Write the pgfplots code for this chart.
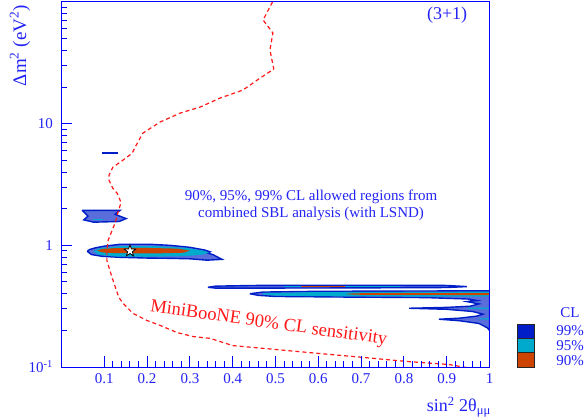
\documentclass[border=0pt]{standalone}
\usepackage{pgfplots}
\pgfplotsset{compat=1.18}
\usepackage{fontspec}
\setmainfont{Liberation Serif}
\definecolor{rootblue}{RGB}{0,0,255}
\definecolor{txtblue}{RGB}{35,35,245}
\definecolor{c99}{RGB}{0,30,200}
\definecolor{c95}{RGB}{0,170,204}
\definecolor{c90}{RGB}{204,68,0}
\definecolor{sensred}{RGB}{255,25,25}
\pgfdeclareplotmark{fstar}{%
  \pgfpathmoveto{\pgfpointpolar{90}{\pgfplotmarksize}}%
  \pgfpathlineto{\pgfpointpolar{126}{0.42\pgfplotmarksize}}%
  \pgfpathlineto{\pgfpointpolar{162}{\pgfplotmarksize}}%
  \pgfpathlineto{\pgfpointpolar{198}{0.42\pgfplotmarksize}}%
  \pgfpathlineto{\pgfpointpolar{234}{\pgfplotmarksize}}%
  \pgfpathlineto{\pgfpointpolar{270}{0.42\pgfplotmarksize}}%
  \pgfpathlineto{\pgfpointpolar{306}{\pgfplotmarksize}}%
  \pgfpathlineto{\pgfpointpolar{342}{0.42\pgfplotmarksize}}%
  \pgfpathlineto{\pgfpointpolar{18}{\pgfplotmarksize}}%
  \pgfpathlineto{\pgfpointpolar{54}{0.42\pgfplotmarksize}}%
  \pgfpathclose
  \pgfusepathqfillstroke}
\begin{document}
\begin{tikzpicture}
\path[use as bounding box] (-61.5bp,-52bp) rectangle (525.5bp,367bp);
\begin{axis}[
  at={(0,0)}, anchor=south west,
  scale only axis, width=428bp, height=365bp,
  xmin=0, xmax=1, ymode=log, ymin=0.1, ymax=100,
  axis on top,
  axis line style={rootblue, line width=1bp},
  xtick={0.1,0.2,0.3,0.4,0.5,0.6,0.7,0.8,0.9,1},
  xticklabels={0.1,0.2,0.3,0.4,0.5,0.6,0.7,0.8,0.9,1},
  minor x tick num=4,
  ytick={0.1,1,10,100},
  yticklabels={10\textsuperscript{-1},1,10,{}},
  minor ytick={0.2,0.3,0.4,0.5,0.6,0.7,0.8,0.9,2,3,4,5,6,7,8,9,20,30,40,50,60,70,80,90},
  xtick pos=bottom, ytick pos=left,
  tick align=inside,
  major tick length=11bp, minor tick length=6bp,
  every tick/.style={rootblue, line width=1bp},
  tick label style={font=\fontsize{15bp}{18bp}\selectfont, text=txtblue},
  /pgf/number format/assume math mode=true,
  xticklabel style={yshift=-3bp},
  yticklabel style={xshift=-5bp},
]
% 99% regions
\addplot[draw=c99, line width=1.4bp, fill=c99!65!white] coordinates {
(0.048,1.94) (0.137,1.94) (0.125,1.80) (0.151,1.66) (0.135,1.57) (0.075,1.55) (0.052,1.62) (0.062,1.74) (0.048,1.94)};
\addplot[draw=c99, line width=1.4bp, fill=c99!65!white] coordinates {
(0.060,0.893) (0.066,0.925) (0.080,0.955) (0.100,0.985) (0.137,1.02) (0.207,1.02) (0.254,1.00) (0.300,0.963) (0.335,0.915) (0.347,0.885) (0.340,0.870) (0.355,0.835) (0.375,0.767) (0.340,0.755) (0.300,0.775) (0.254,0.782) (0.207,0.785) (0.137,0.797) (0.095,0.812) (0.070,0.840) (0.060,0.893)};
\addplot[draw=c99, line width=1.2bp, fill=c99] coordinates {
(0.097,5.82) (0.130,5.82) (0.130,5.68) (0.097,5.68) (0.097,5.82)};
\addplot[draw=c99, line width=1.4bp, fill=c99!65!white] coordinates {
(0.342,0.452) (0.36,0.462) (0.45,0.468) (0.70,0.470) (0.90,0.468) (0.947,0.458) (0.90,0.450) (0.70,0.447) (0.45,0.445) (0.36,0.445) (0.342,0.452)};
\addplot[draw=c99, line width=1.4bp, fill=c99!65!white] coordinates {
(0.440,0.400) (0.47,0.413) (0.60,0.419) (0.80,0.421) (1.000,0.423) (1.000,0.200) (0.995,0.210) (0.975,0.228) (0.93,0.240) (0.882,0.247) (0.93,0.252) (0.97,0.262) (0.985,0.272) (0.96,0.286) (0.90,0.298) (0.812,0.304) (0.90,0.309) (0.955,0.316) (0.975,0.33) (0.96,0.338) (0.947,0.345) (0.97,0.352) (0.95,0.362) (0.85,0.372) (0.65,0.376) (0.50,0.380) (0.46,0.388) (0.440,0.400)};
% 95% regions
\addplot[draw=none, fill=c95] coordinates {
(0.074,1.66) (0.097,1.66) (0.097,1.62) (0.074,1.62)};
\addplot[draw=none, fill=c95] coordinates {
(0.075,0.90) (0.09,0.95) (0.14,0.985) (0.22,0.985) (0.29,0.955) (0.33,0.905) (0.345,0.87) (0.33,0.84) (0.29,0.815) (0.2,0.805) (0.12,0.81) (0.085,0.84) (0.075,0.90)};
\addplot[draw=none, fill=c95] coordinates {
(0.52,0.461) (0.79,0.461) (0.79,0.452) (0.52,0.452)};
\addplot[draw=none, fill=c95] coordinates {
(0.47,0.405) (0.60,0.413) (1.0,0.416) (1.0,0.38) (0.95,0.378) (0.6,0.382) (0.5,0.386) (0.47,0.395)};
\addplot[draw=none, fill=c95] coordinates {
(0.95,0.301) (1.0,0.300) (1.0,0.308) (0.95,0.307)};
\addplot[draw=none, fill=c95] coordinates {
(0.975,0.247) (1.0,0.246) (1.0,0.252) (0.975,0.251)};
% 90% regions
\addplot[draw=none, fill=c90] coordinates {
(0.083,0.905) (0.095,0.935) (0.13,0.95) (0.2,0.952) (0.27,0.94) (0.30,0.905) (0.285,0.87) (0.22,0.858) (0.13,0.862) (0.095,0.875) (0.083,0.905)};
\addplot[draw=none, fill=c90] coordinates {
(0.56,0.459) (0.662,0.459) (0.662,0.454) (0.56,0.454)};
\addplot[draw=none, fill=c90] coordinates {
(0.667,0.401) (0.70,0.404) (1.0,0.405) (1.0,0.390) (0.70,0.392) (0.667,0.396)};
% MiniBooNE sensitivity
\addplot[sensred, line width=1.2bp, dash pattern=on 4bp off 3bp] coordinates {
(0.493,100) (0.471,71.1) (0.494,55.6) (0.487,40.3) (0.496,28.1) (0.464,23.7) (0.424,18.9) (0.370,16.2) (0.324,13.7) (0.277,12.2) (0.230,10.3) (0.190,8.35) (0.172,6.41) (0.165,5.71) (0.137,4.82) (0.120,4.39) (0.111,3.77) (0.111,3.43) (0.120,2.94) (0.130,2.68) (0.139,2.26) (0.137,2.13) (0.132,1.87) (0.125,1.52) (0.109,1.10) (0.106,0.91) (0.106,0.753) (0.118,0.545) (0.134,0.373) (0.144,0.333) (0.167,0.276) (0.200,0.241) (0.230,0.220) (0.270,0.192) (0.307,0.178) (0.347,0.172) (0.400,0.150) (0.604,0.129) (0.704,0.120) (0.807,0.111) (0.903,0.105) (0.947,0.099) (0.96,0.097)};
% best fit
\addplot[only marks, mark=fstar, mark size=6bp, mark options={fill=white, draw=black, line width=0.8bp}] coordinates {(0.160,0.898)};
\node[font=\fontsize{18bp}{20bp}\selectfont, text=txtblue] at (rel axis cs:0.901,0.964) {(3+1)};
\node[font=\fontsize{15bp}{17bp}\selectfont, text=txtblue, align=center] at (rel axis cs:0.583,0.444) {90\%, 95\%, 99\% CL allowed regions from\\combined SBL analysis (with LSND)};
\node[font=\fontsize{18.5bp}{20bp}\selectfont, text=sensred, rotate=-8, inner sep=1bp] at (rel axis cs:0.484,0.118) {MiniBooNE 90\% CL sensitivity};
\end{axis}
% axis titles
\node[font=\fontsize{19bp}{21bp}\selectfont, text=txtblue, rotate=90, anchor=east, inner sep=0] at (-41.5bp,362bp) {Δm\textsuperscript{2} (eV\textsuperscript{2})};
\node[font=\fontsize{18bp}{20bp}\selectfont, text=txtblue, anchor=north east, inner sep=0] at (429.5bp,-30bp) {sin\textsuperscript{2} 2θ\textsubscript{μμ}};
% CL legend
\node[font=\fontsize{15bp}{17bp}\selectfont, text=txtblue] at (508.5bp,54bp) {CL};
\draw[black!85, line width=0.8bp, fill=c99] (455.5bp,29bp) rectangle (472.5bp,43bp);
\draw[black!85, line width=0.8bp, fill=c95] (455.5bp,15bp) rectangle (472.5bp,29bp);
\draw[black!85, line width=0.8bp, fill=c90] (455.5bp,0bp) rectangle (472.5bp,15bp);
\node[font=\fontsize{15bp}{17bp}\selectfont, text=txtblue] at (508.5bp,36bp) {99\%};
\node[font=\fontsize{15bp}{17bp}\selectfont, text=txtblue] at (508.5bp,21bp) {95\%};
\node[font=\fontsize{15bp}{17bp}\selectfont, text=txtblue] at (508.5bp,6bp) {90\%};
\end{tikzpicture}
\end{document}
